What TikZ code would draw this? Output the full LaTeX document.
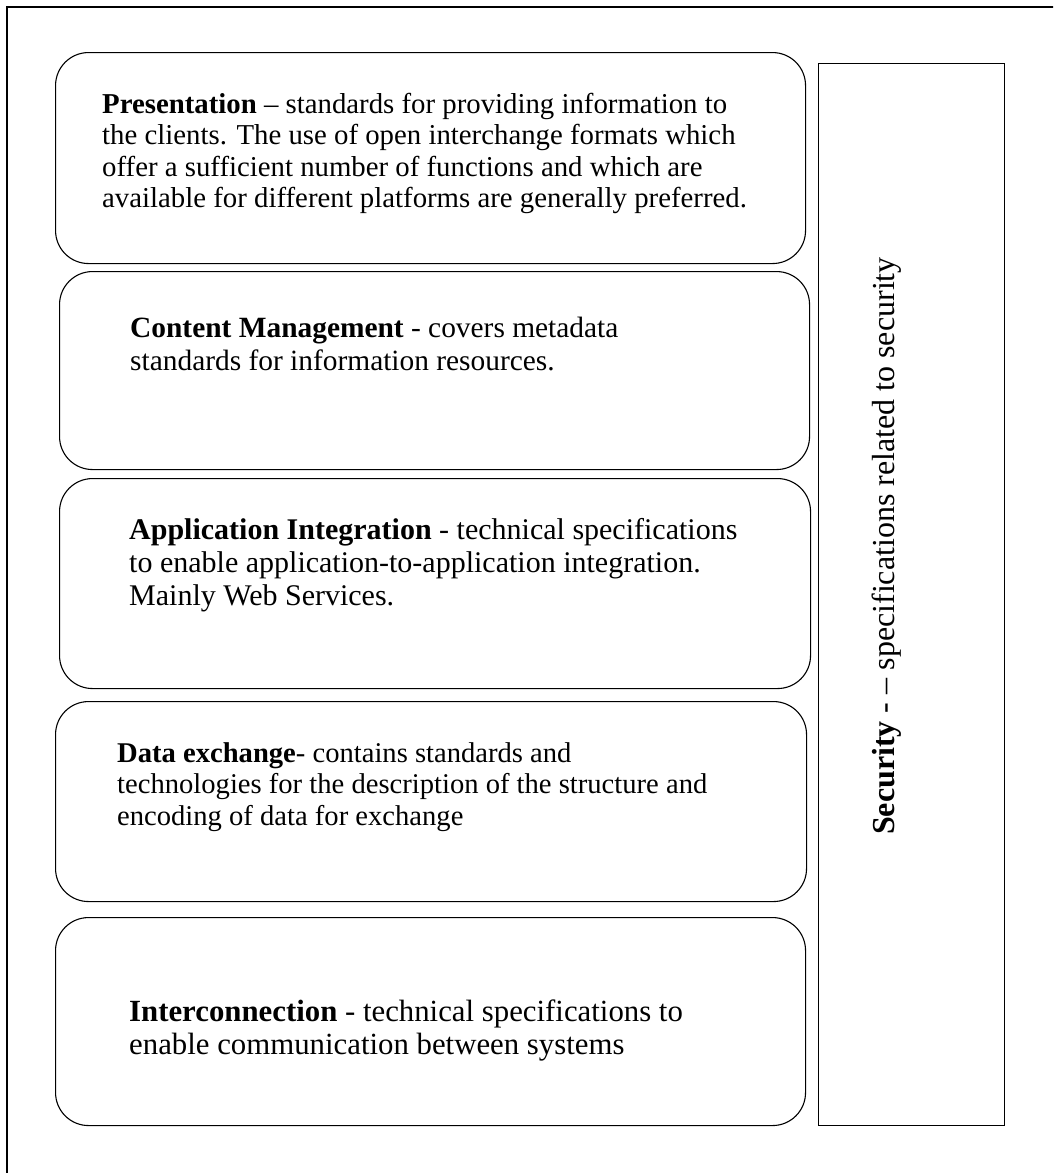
\documentclass[tikz,border=0pt]{standalone}
\usepackage{fontspec}
\setmainfont{Liberation Serif}
\usetikzlibrary{positioning}

\tikzset{
  layer/.style={draw, line width=1.1pt, rounded corners=33pt, inner sep=0pt, anchor=north west},
  layertext/.style={inner sep=0pt, align=left, font=\fontsize{28.8}{31.5}\selectfont},
  layertextbig/.style={layertext, font=\fontsize{30}{33}\selectfont},
}

\begin{document}
\begin{tikzpicture}[x=1pt,y=-1pt]

    \useasboundingbox (0,0) rectangle (1053,1173);
    \clip (0,0) rectangle (1053,1173);
    % outer frame, runs off the page on the right and at the bottom
    \draw[line width=1.5pt] (7,7) rectangle (1080,1200);

    % the five layers
    \node[layer, minimum width=750pt, minimum height=211pt] (present) at (55,52) {};
    \node[layer, minimum width=750pt, minimum height=198pt] (content) at (59,271) {};
    \node[layer, minimum width=751pt, minimum height=210pt] (appint) at (59,478) {};
    \node[layer, minimum width=751pt, minimum height=200pt] (dataex) at (55,701) {};
    \node[layer, minimum width=750pt, minimum height=208pt] (intercon) at (55,917) {};

    \node[layertext, below right=41pt and 47pt of present.north west] (presenttxt)
    {\textbf{Presentation} -- standards for providing information to\\
     the clients. The use of open interchange formats which\\
     offer a sufficient number of functions and which are\\
     available for different platforms are generally preferred.};
    \node[layertextbig, font=\fontsize{29.4}{33}\selectfont, below right=46pt and 71pt of content.north west] (contenttxt)
    {\textbf{Content Management} - covers metadata\\
     standards for information resources.};
    \node[layertextbig, below right=40pt and 70pt of appint.north west] (appinttxt)
    {\textbf{Application Integration} - technical specifications\\
     to enable application-to-application integration.\\
     Mainly Web Services.};
    \node[layertext, font=\fontsize{28.6}{31.5}\selectfont, below right=41pt and 62pt of dataex.north west] (dataextxt)
    {\textbf{Data exchange}- contains standards and\\
     technologies for the description of the structure and\\
     encoding of data for exchange};
    \node[layertextbig, font=\fontsize{30.8}{33}\selectfont, below right=83pt and 74pt of intercon.north west] (intercontxt)
    {\textbf{Interconnection} - technical specifications to\\
     enable communication between systems};

    % security runs alongside all layers
    \node[draw, line width=1.3pt, minimum width=186pt, minimum height=1062pt, anchor=north west] (security) at (818,63) {};
    \node[inner sep=0pt, font=\fontsize{32}{36}\selectfont, rotate=90, anchor=base] (securitytxt) at (894,546)
    {\textbf{Security} - -- specifications related to security};

\end{tikzpicture}
\end{document}
